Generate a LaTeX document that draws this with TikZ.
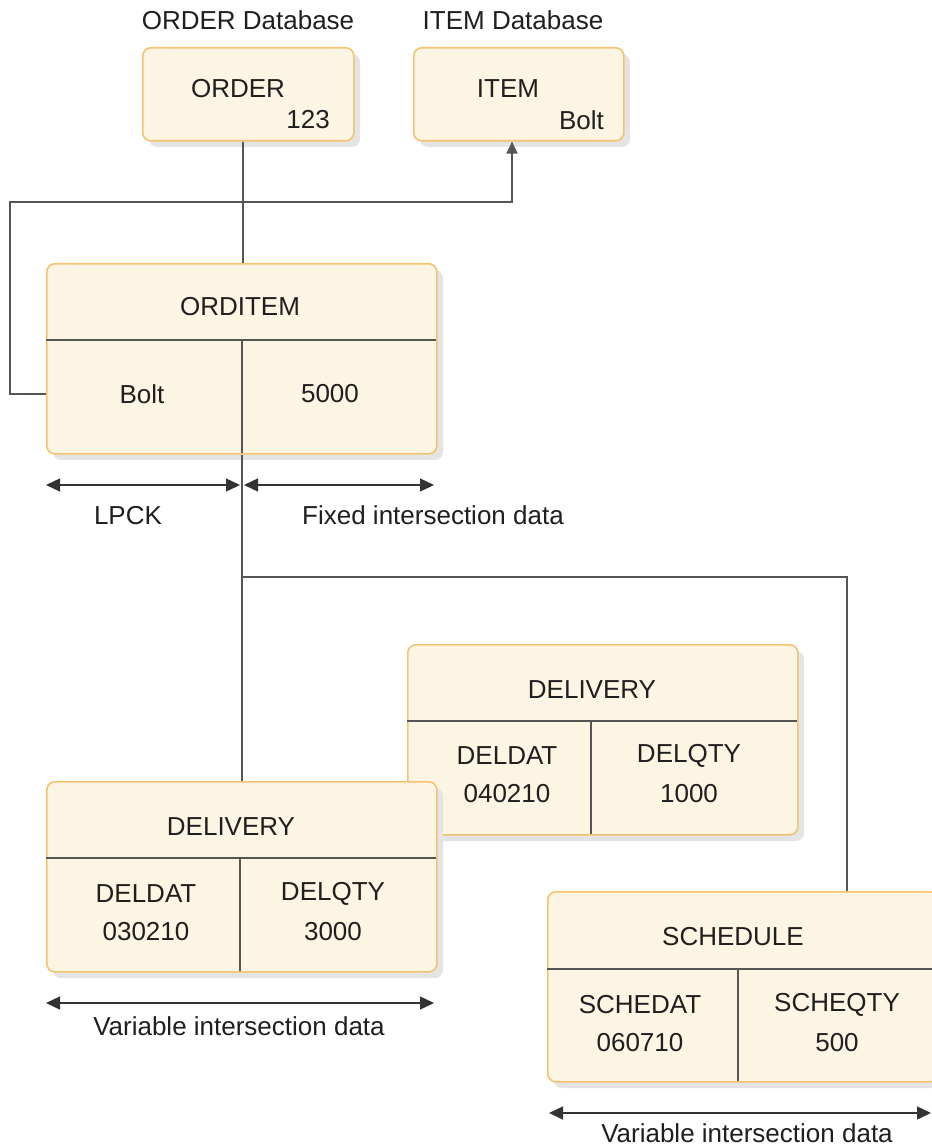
\documentclass[tikz,border=0pt]{standalone}
\usepackage{fontspec}
\setmainfont{Liberation Sans}
\usetikzlibrary{arrows.meta}
\definecolor{boxfill}{HTML}{FDF5E4}
\definecolor{boxline}{HTML}{F4C36E}
\definecolor{shade}{HTML}{E4E4E4}
\definecolor{conn}{HTML}{555555}
\tikzset{
  rec/.style={draw=boxline, line width=1.6pt, fill=boxfill, rounded corners=8pt, inner sep=0pt},
  shad/.style={fill=shade, draw=none, rounded corners=8pt},
  wire/.style={draw=conn, line width=1.4pt},
  divider/.style={draw=conn, line width=1.4pt},
  dimarrow/.style={draw=black!80, line width=1.4pt, {Triangle[length=14pt,width=13pt]}-{Triangle[length=14pt,width=13pt]}},
  tip/.style={-{Triangle[length=12pt,width=11pt]}},
  txt/.style={inner sep=0pt, font=\fontsize{26}{30}\selectfont, text=black!88},
}
\newcommand{\recbox}[5]{% name, x1, y1, x2, y2 (top-left, bottom-right)
  \fill[shad] (#2+7,#3+7) rectangle (#4+7,#5+7);
  \node[rec, minimum width=#4-#2, minimum height=#5-#3, anchor=north west] (#1) at (#2,#3) {};
}
\begin{document}
\begin{tikzpicture}[x=1pt,y=-1pt]
\useasboundingbox (0,0) rectangle (931,1147);
\fill[white] (0,0) rectangle (931,1147);

% ---- database labels
\node[txt] (orderdb) at (248,20) {ORDER Database};
\node[txt] (itemdb) at (513,20) {ITEM Database};

% ---- ORDER and ITEM
\recbox{order}{142}{47}{353}{140}
\node[txt] (ordert) at (238,89) {ORDER};
\node[txt, anchor=east] (orderv) at (330,120) {123};
\recbox{item}{413}{47}{623}{140}
\node[txt] (itemt) at (508,89) {ITEM};
\node[txt, anchor=east] (itemv) at (604,120) {Bolt};

% ---- ORDITEM
\recbox{orditem}{46}{263}{436}{453}
\draw[divider] (46,340) -- (436,340);
\draw[divider] (242,340) -- (242,453);
\node[txt] (orditemt) at (240,307) {ORDITEM};
\node[txt] (bolt) at (142,394) {Bolt};
\node[txt] (qty) at (330,394) {5000};

% ---- DELIVERY (back)
\recbox{deltwo}{407}{644}{797}{834}
\draw[divider] (407,721) -- (797,721);
\draw[divider] (591,721) -- (591,834);
\node[txt] (deltwot) at (592,690) {DELIVERY};
\node[txt] (deltwoa) at (507,756) {DELDAT};
\node[txt] (deltwob) at (507,794) {040210};
\node[txt] (deltwoc) at (689,756) {DELQTY};
\node[txt] (deltwod) at (689,794) {1000};

% ---- DELIVERY (front)
\recbox{delone}{46}{781}{436}{971}
\draw[divider] (46,858) -- (436,858);
\draw[divider] (240,858) -- (240,971);
\node[txt] (delonet) at (231,827) {DELIVERY};
\node[txt] (delonea) at (146,894) {DELDAT};
\node[txt] (deloneb) at (146,932) {030210};
\node[txt] (delonec) at (333,894) {DELQTY};
\node[txt] (deloned) at (333,932) {3000};

% ---- SCHEDULE
\recbox{sched}{547}{891}{937}{1081}
\draw[divider] (547,969) -- (937,969);
\draw[divider] (738,969) -- (738,1081);
\node[txt] (schedt) at (733,937) {SCHEDULE};
\node[txt] (scheda) at (640,1005) {SCHEDAT};
\node[txt] (schedb) at (640,1043) {060710};
\node[txt] (schedc) at (837,1005) {SCHEQTY};
\node[txt] (schedd) at (837,1043) {500};

% ---- connectors
\coordinate (jn) at (242,577);
\coordinate (lx) at (10,202);
\draw[wire] (order.south -| 243,0) -- (orditem.north -| 243,0);
\draw[wire] (orditem.south -| 242,0) -- (delone.north -| 242,0);
\draw[wire] (jn) -- (jn -| 847,0) -- (sched.north -| 847,0);
\draw[wire, tip] (orditem.west |- bolt) -- (lx |- bolt) -- (lx) -- (lx -| 512,0) -- (item.south -| 512,0);

% ---- dimension arrows
\coordinate (la) at (46,485);
\coordinate (lb) at (240,485);
\coordinate (fa) at (244,485);
\coordinate (fb) at (434,485);
\draw[dimarrow] (la) -- (lb);
\draw[dimarrow] (fa) -- (fb);
\node[txt] (lpck) at (128,516) {LPCK};
\node[txt] (fixed) at (433,515) {Fixed intersection data};

\coordinate (va) at (46,1003);
\coordinate (vb) at (434,1003);
\draw[dimarrow] (va) -- (vb);
\node[txt] (vlab) at (239,1026) {Variable intersection data};

\coordinate (wa) at (549,1113);
\coordinate (wb) at (931,1113);
\draw[dimarrow] (wa) -- (wb);
\node[txt] (wlab) at (747,1133) {Variable intersection data};
\end{tikzpicture}
\end{document}
